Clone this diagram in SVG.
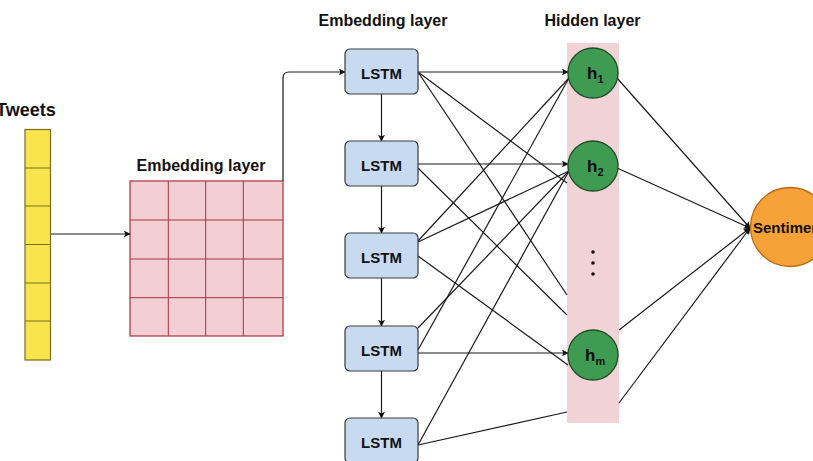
<svg xmlns="http://www.w3.org/2000/svg" width="813" height="461" viewBox="0 0 813 461">
<defs>
<marker id="arr" viewBox="0 0 10 10" refX="9" refY="5" markerWidth="7" markerHeight="7" markerUnits="userSpaceOnUse" orient="auto">
<path d="M0,0 L10,5 L0,10 L2.5,5 Z" fill="#111"/>
</marker>
<style>
.lbl{font-family:"Liberation Sans",Arial,sans-serif;font-weight:bold;fill:#111;}
.lstm rect{fill:#c8daf0;stroke:#3a3a3a;stroke-width:1.2;}
.hid circle{fill:#3f9a52;stroke:#1d4f26;stroke-width:1.3;}
.ln{stroke:#1a1a1a;stroke-width:1.2;fill:none;}
.ar{stroke:#1a1a1a;stroke-width:1.2;fill:none;marker-end:url(#arr);}
.grid{stroke:#a63340;stroke-width:1;fill:none;}
</style>
</defs>
<rect width="813" height="461" fill="#fff"/>

<!-- Labels -->
<text class="lbl" x="-4" y="116" font-size="18">Tweets</text>
<text class="lbl" x="201" y="171" font-size="16" text-anchor="middle">Embedding layer</text>
<text class="lbl" x="383" y="26" font-size="16" text-anchor="middle">Embedding layer</text>
<text class="lbl" x="592.5" y="26" font-size="16" text-anchor="middle">Hidden layer</text>

<!-- Tweets column -->
<g id="tweets">
<rect x="25" y="129.5" width="25.5" height="230.5" fill="#f8e44c" stroke="#7d6d1c" stroke-width="1.2"/>
<path d="M25,168H50.5M25,206H50.5M25,244.5H50.5M25,283H50.5M25,321H50.5" stroke="#7d6d1c" stroke-width="1.2"/>
</g>

<!-- Embedding grid -->
<g id="embedding">
<rect x="130" y="181" width="153" height="155" fill="#f3cfd4" stroke="#a63340" stroke-width="1.2"/>
<path class="grid" d="M168.3,181V336M205.7,181V336M243.3,181V336M130,220H283M130,259H283M130,297.7H283"/>
</g>

<!-- Hidden band -->
<rect id="band" x="567" y="43" width="52" height="380" fill="#f1d3d7"/>

<!-- Connectors -->
<g id="connectors">
<path class="ar" d="M51,234H130"/>
<path class="ar" d="M283,181V78Q283,72 289,72H345"/>
<path class="ar" d="M381.5,94V141"/>
<path class="ar" d="M381.5,186V233"/>
<path class="ar" d="M381.5,278V326"/>
<path class="ar" d="M381.5,371V418"/>

<path class="ar" d="M418,72H568"/>
<path class="ar" d="M418,164H568"/>
<path class="ar" d="M418,353H568"/>

<path class="ln" d="M418,72L567,183"/>
<path class="ln" d="M418,72L567,295"/>
<path class="ln" d="M418,168L567,315"/>
<path class="ln" d="M418,241L569,78"/>
<path class="ln" d="M418,242L569,171"/>
<path class="ln" d="M418,256L568,365"/>
<path class="ln" d="M418,328L569,171"/>
<path class="ln" d="M418,350L569,78"/>
<path class="ln" d="M418,445L569,171"/>
<path class="ln" d="M418,445L567,412"/>

<path class="ar" d="M617,78L750,228"/>
<path class="ar" d="M617,168L750,228"/>
<path class="ar" d="M619,330L750,228"/>
<path class="ar" d="M619,403L750,228"/>
</g>

<!-- LSTM nodes -->
<g id="lstm1" class="lstm"><rect x="345" y="49" width="73" height="45" rx="5"/><text class="lbl" x="381.5" y="79" font-size="15" text-anchor="middle">LSTM</text></g>
<g id="lstm2" class="lstm"><rect x="345" y="141" width="73" height="45" rx="5"/><text class="lbl" x="381.5" y="171" font-size="15" text-anchor="middle">LSTM</text></g>
<g id="lstm3" class="lstm"><rect x="345" y="233" width="73" height="45" rx="5"/><text class="lbl" x="381.5" y="263" font-size="15" text-anchor="middle">LSTM</text></g>
<g id="lstm4" class="lstm"><rect x="345" y="326" width="73" height="45" rx="5"/><text class="lbl" x="381.5" y="356" font-size="15" text-anchor="middle">LSTM</text></g>
<g id="lstm5" class="lstm"><rect x="345" y="418" width="73" height="45" rx="5"/><text class="lbl" x="381.5" y="448" font-size="15" text-anchor="middle">LSTM</text></g>

<!-- Hidden nodes -->
<g id="h1" class="hid"><circle cx="593" cy="73" r="25"/><text class="lbl" x="587" y="79" font-size="17">h<tspan font-size="11" dy="4">1</tspan></text></g>
<g id="h2" class="hid"><circle cx="593" cy="166" r="25"/><text class="lbl" x="587" y="172" font-size="17">h<tspan font-size="11" dy="4">2</tspan></text></g>
<g id="hm" class="hid"><circle cx="593" cy="355" r="25"/><text class="lbl" x="585" y="361" font-size="17">h<tspan font-size="11" dy="4">m</tspan></text></g>
<g id="dots" fill="#111"><circle cx="593" cy="252" r="1.8"/><circle cx="593" cy="263" r="1.8"/><circle cx="593" cy="274" r="1.8"/></g>

<!-- Sentiment -->
<g id="sentiment">
<circle cx="790" cy="227" r="39.5" fill="#f7a238" stroke="#b86a12" stroke-width="1.3"/>
<text class="lbl" x="753" y="233" font-size="15">Sentiment</text>
</g>
</svg>
